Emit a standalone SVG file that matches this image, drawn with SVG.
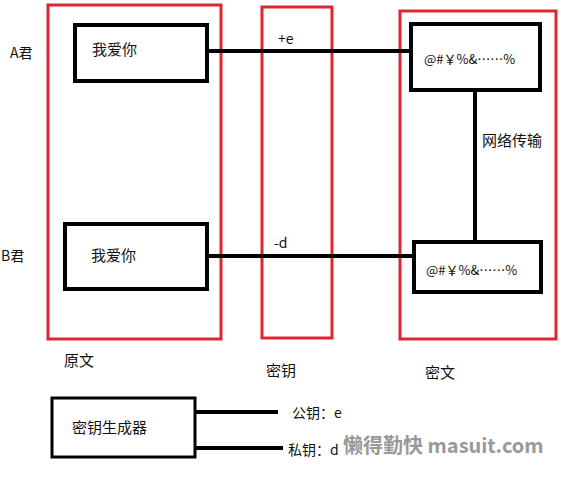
<svg xmlns="http://www.w3.org/2000/svg" width="568" height="485" viewBox="0 0 568 485">
<style>
.red{fill:none;stroke:#dc2630;stroke-width:3}
.box{fill:#fff;stroke:#000;stroke-width:4}
.ln{stroke:#000;stroke-width:4;fill:none}
text{font-family:"Noto Sans CJK SC","Noto Sans",sans-serif;font-size:15px;fill:#111}
.c{font-size:13px}
.wm{font-size:20px;font-weight:bold;fill:#808080;opacity:0.8}
</style>
<rect width="568" height="485" fill="#fff"/>
<g id="group-plain"><rect class="red" x="48" y="5" width="173" height="334"/><text x="64" y="366">原文</text></g>
<g id="group-key"><rect class="red" x="262" y="7" width="70" height="331"/><text x="266" y="376">密钥</text></g>
<g id="group-cipher"><rect class="red" x="400" y="11" width="156" height="328"/><text x="425" y="378">密文</text></g>
<g id="connectors">
<line class="ln" x1="209" y1="51" x2="409" y2="51"/>
<line class="ln" x1="205" y1="256" x2="412" y2="256"/>
<line class="ln" x1="475" y1="92" x2="475" y2="240"/>
<line class="ln" x1="196" y1="412" x2="278" y2="412"/>
<line class="ln" x1="196" y1="448" x2="283" y2="448"/>
<text x="278" y="44" style="font-size:14px">+e</text>
<text x="274" y="248" style="font-size:14px">-d</text>
<text x="482" y="146">网络传输</text>
<text x="292" y="418" style="font-size:14px">公钥：e</text>
<text x="288" y="455" style="font-size:14px">私钥：d</text>
</g>
<g id="label-a"><text x="10" y="58" style="font-size:14px">A君</text></g>
<g id="label-b"><text x="1" y="261" style="font-size:14px">B君</text></g>
<g id="plain-a"><rect class="box" x="75" y="25" width="132" height="56"/><text x="92" y="55">我爱你</text></g>
<g id="plain-b"><rect class="box" x="65" y="224" width="142" height="65"/><text x="91" y="261">我爱你</text></g>
<g id="cipher-a"><rect class="box" x="411" y="24" width="129" height="66"/><text class="c" x="424" y="64">@#￥%&amp;……%</text></g>
<g id="cipher-b"><rect class="box" x="414" y="242" width="127" height="50"/><text class="c" x="426" y="275">@#￥%&amp;……%</text></g>
<g id="keygen"><rect class="box" x="52" y="398" width="143" height="59" style="stroke-width:3"/><text x="72" y="433">密钥生成器</text></g>
<text class="wm" x="343" y="453">懒得勤快 masuit.com</text>
</svg>
